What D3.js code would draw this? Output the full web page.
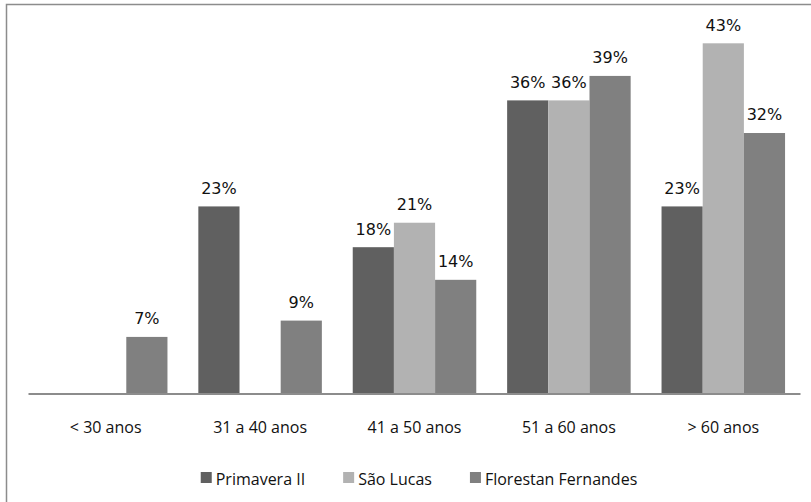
<!DOCTYPE html>
<html>
<head>
<meta charset="utf-8">
<script src="https://cdn.jsdelivr.net/npm/d3@7"></script>
<style>
  html, body { margin: 0; padding: 0; background: #fff; }
  svg { display: block; }
</style>
</head>
<body>
<svg id="chart" width="811" height="502"></svg>
<script>
// Age groups and the share of respondents (%) in each settlement
const categories = ["< 30 anos", "31 a 40 anos", "41 a 50 anos", "51 a 60 anos", "> 60 anos"];
const seriesNames = ["Primavera II", "São Lucas", "Florestan Fernandes"];
const primavera = [null, 23, 18, 36, 23];
const saoLucas = [null, null, 21, 36, 43];
const florestan = [7, 9, 14, 39, 32];
const seriesColors = ["#606060", "#b2b2b2", "#808080"];

const seriesValues = [primavera, saoLucas, florestan];

const svg = d3.select("#chart");
const W = 811, H = 502;

// Outer frame of the chart area (right and bottom edges run off the page)
svg.append("rect")
  .attr("x", 6.5).attr("y", 4.5)
  .attr("width", W + 10).attr("height", H + 10)
  .attr("fill", "#fff")
  .attr("stroke", "#8c8c8c")
  .attr("stroke-width", 1.5);

const baseY = 394;
const x0 = d3.scaleBand().domain(categories).range([28.5, 800.5]).padding(0);
const groupW = x0.bandwidth() * 0.8;
const x1 = d3.scaleBand().domain(seriesNames).range([0, groupW]).padding(0);
const y = d3.scaleLinear().domain([0, 43]).range([baseY, 43.3]);

const rows = [];
categories.forEach((c, i) => {
  seriesNames.forEach((s, j) => {
    const v = seriesValues[j][i];
    if (v != null) rows.push({ cat: c, series: s, idx: j, value: v });
  });
});

const gx = (d) => x0(d.cat) + (x0.bandwidth() - groupW) / 2 + x1(d.series);

// Bars
svg.append("g").selectAll("rect")
  .data(rows)
  .join("rect")
  .attr("x", gx)
  .attr("y", d => y(d.value))
  .attr("width", x1.bandwidth())
  .attr("height", d => baseY - y(d.value))
  .attr("fill", d => seriesColors[d.idx]);

// Value labels above bars
svg.append("g").selectAll("text")
  .data(rows)
  .join("text")
  .attr("x", d => gx(d) + x1.bandwidth() / 2)
  .attr("y", d => y(d.value) - 12.6)
  .attr("text-anchor", "middle")
  .attr("font-family", "DejaVu Sans")
  .attr("font-size", 16)
  .attr("fill", "#111")
  .text(d => d.value + "%");

// Category axis
const xAxis = d3.axisBottom(x0).tickSize(0).tickPadding(0);
const axisG = svg.append("g")
  .attr("transform", `translate(0,${baseY})`)
  .call(xAxis);
axisG.select(".domain")
  .attr("stroke", "#8c8c8c")
  .attr("stroke-width", 2)
  .attr("d", `M${x0.range()[0]},0H${x0.range()[1]}`);
axisG.selectAll(".tick text")
  .attr("y", 39.3)
  .attr("dy", 0)
  .attr("font-family", "Open Sans")
  .attr("font-size", 16)
  .attr("fill", "#111");

// Legend
const legend = svg.append("g");
const items = legend.selectAll("g")
  .data(seriesNames)
  .join("g");
items.append("rect")
  .attr("width", 11).attr("height", 11)
  .attr("y", 472)
  .attr("fill", (d, i) => seriesColors[i]);
items.append("text")
  .attr("x", 15)
  .attr("y", 485)
  .attr("font-family", "Open Sans")
  .attr("font-size", 16)
  .attr("fill", "#111")
  .text(d => d);

let cursor = 0;
const offsets = [];
items.each(function () {
  const tw = d3.select(this).select("text").node().getComputedTextLength();
  offsets.push(cursor);
  cursor += 15 + tw + 38;
});
const totalW = cursor - 38;
const startX = 419 - totalW / 2;
items.attr("transform", (d, i) => `translate(${startX + offsets[i]},0)`);
</script>
</body>
</html>
